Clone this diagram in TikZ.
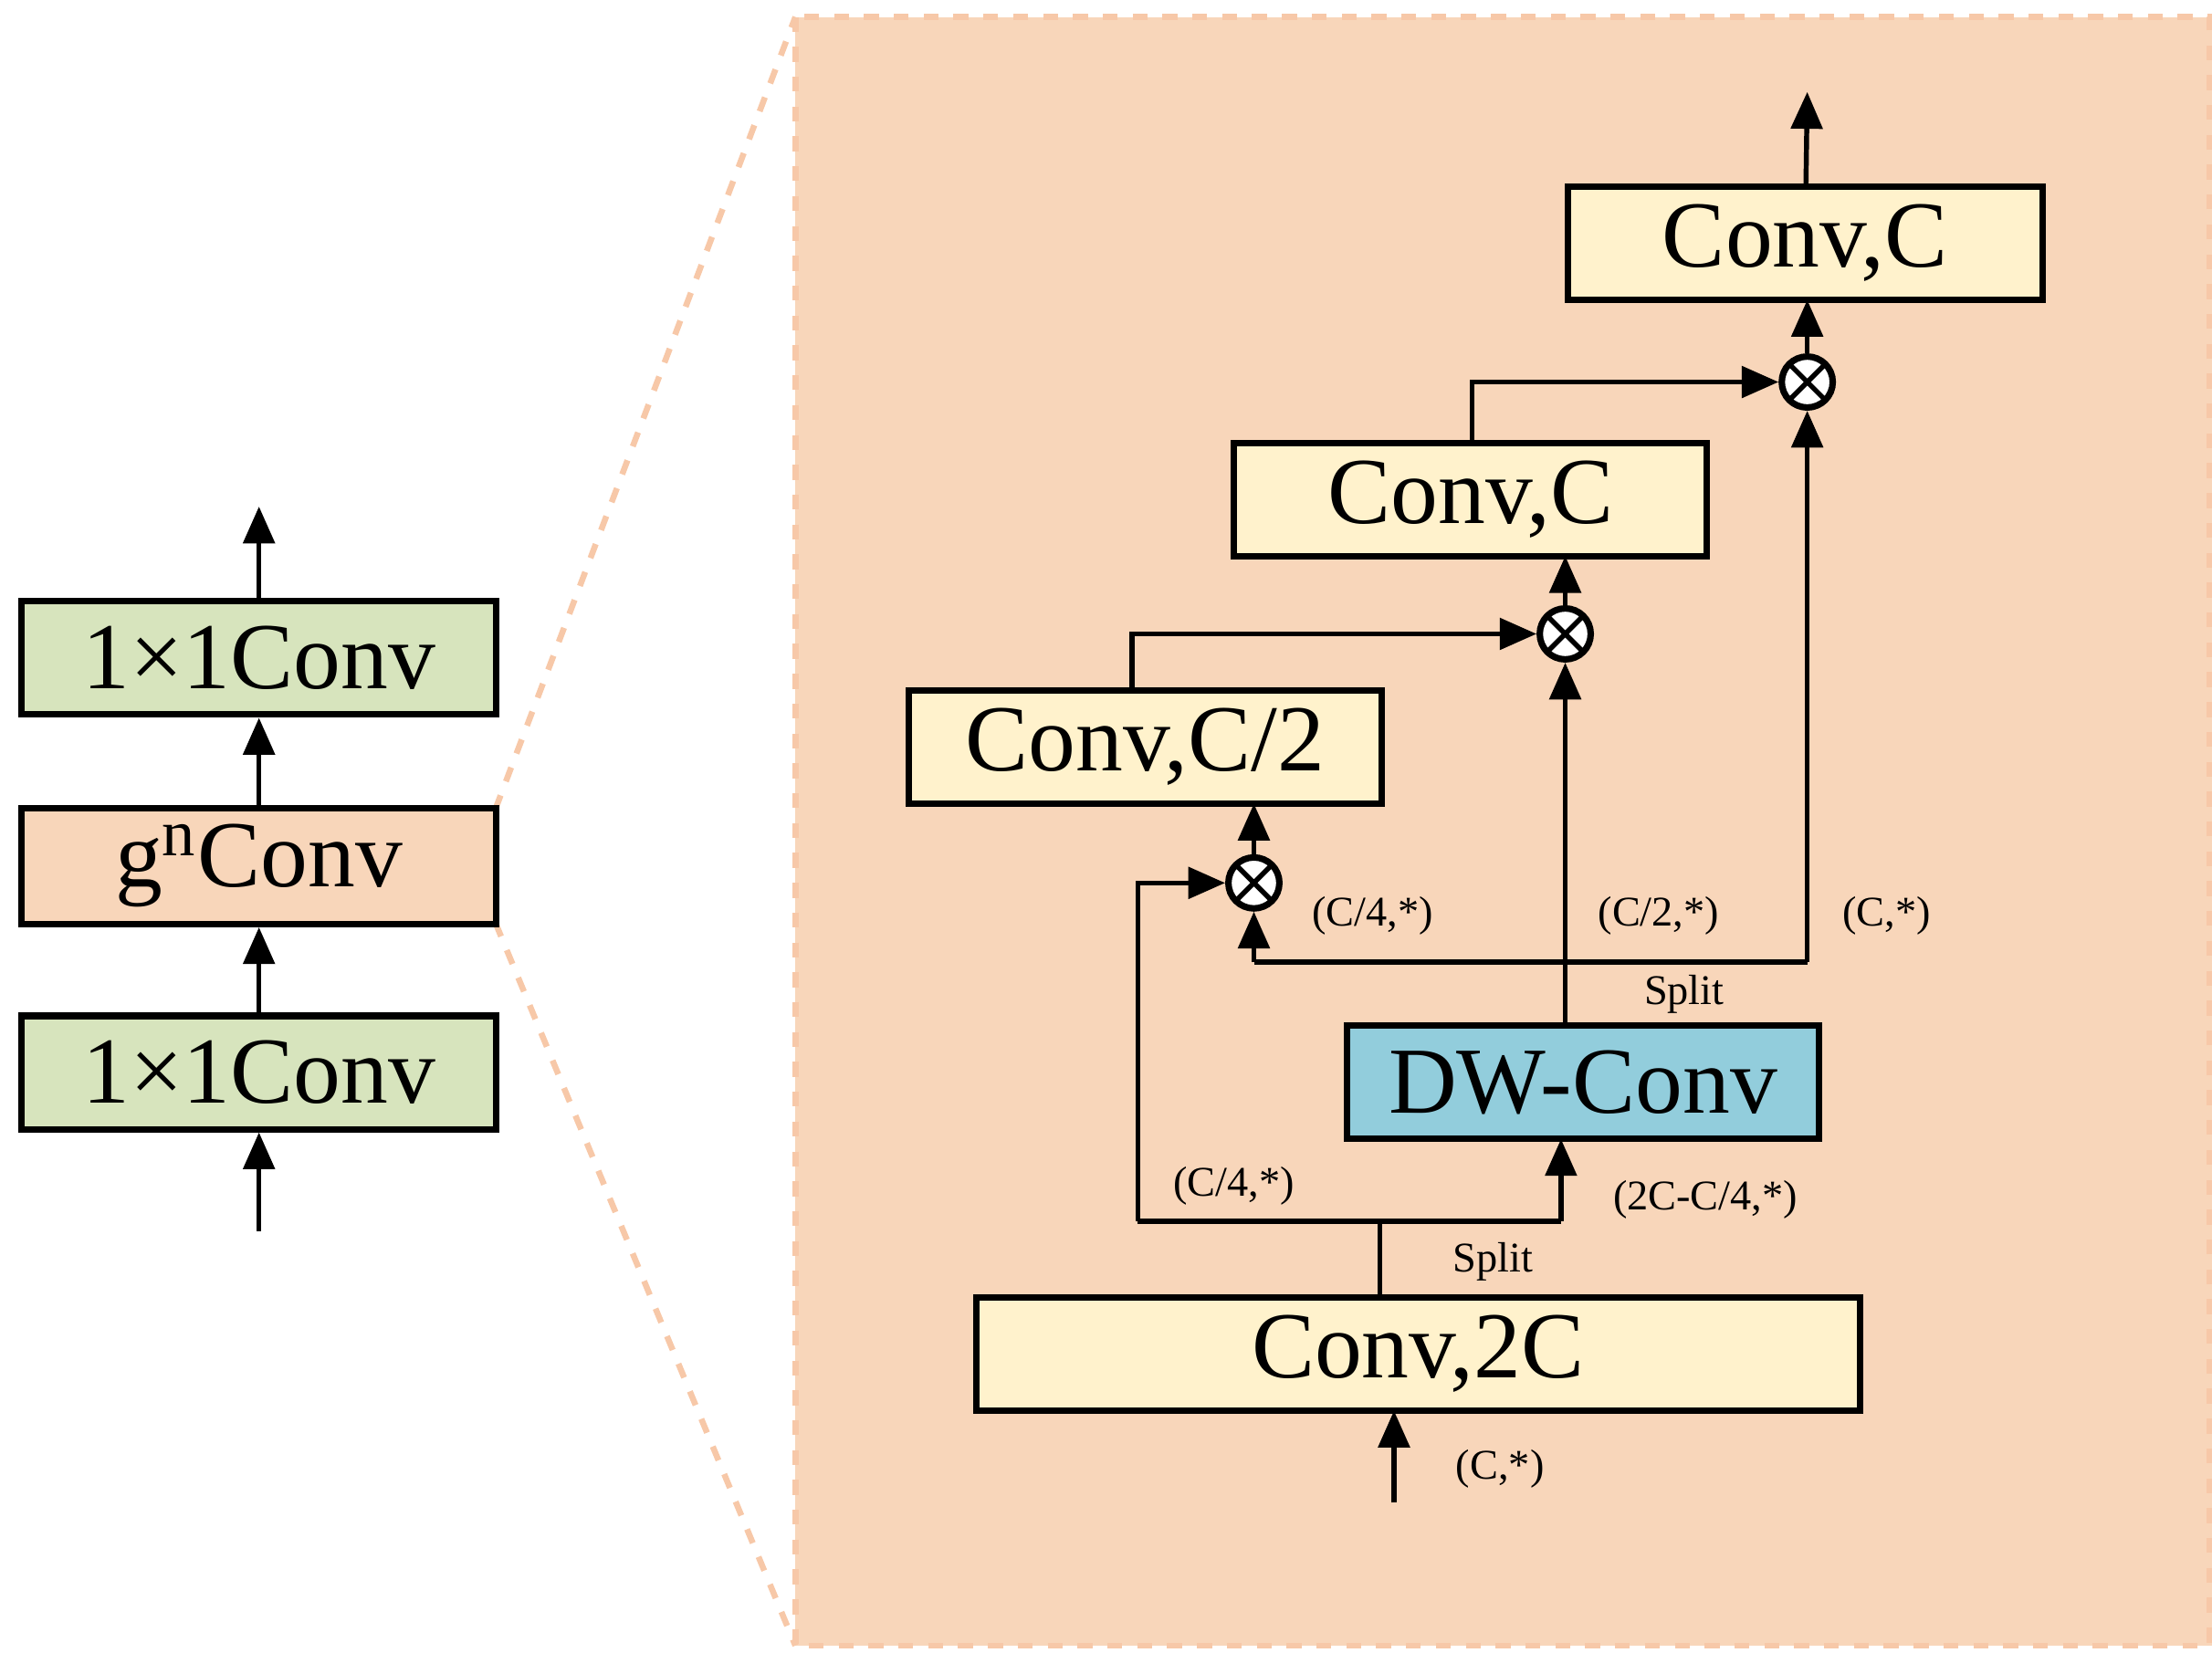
\documentclass[tikz,border=0pt]{standalone}
\usepackage{fontspec}
\setmainfont{Liberation Serif}
\usetikzlibrary{arrows.meta}
\definecolor{gr}{HTML}{D7E4BD}
\definecolor{pe}{HTML}{F8D6BA}
\definecolor{pd}{HTML}{F4B183}
\definecolor{yl}{HTML}{FFF2CC}
\definecolor{bl}{HTML}{92CDDC}
\begin{document}
\begin{tikzpicture}[x=0.01cm,y=-0.01cm,line width=1pt,
  box/.style={draw,line width=1.3pt,fill=yl},
  big/.style={font=\fontsize{19pt}{19pt}\selectfont},
  lab/.style={font=\fontsize{8.5pt}{9pt}\selectfont},
  ar/.style={-{Triangle[width=0.22cm,length=0.26cm]}},
  ot/.style={circle,draw,line width=1.3pt,fill=white,minimum size=0.36cm,inner sep=0pt,path picture={\draw[line width=1pt] (path picture bounding box.north west)--(path picture bounding box.south east) (path picture bounding box.north east)--(path picture bounding box.south west);}}]
\useasboundingbox (0,0) rectangle (1563,1168);
% panel
\fill[pe] (562,12) rectangle (1563,1163);
\draw[pd!70,dashed,line width=1.2pt] (562,12) rectangle (1561,1163);
\draw[pd!70,dashed,line width=1.2pt] (350,572)--(562,12) (350,652)--(562,1163);
% left
\node[box,fill=gr,big,minimum width=3.35cm,minimum height=0.8cm] (l3) at (183,465) {1×1Conv};
\node[box,fill=pe,big,minimum width=3.35cm,minimum height=0.8cm] (l2) at (183,612) {g\textsuperscript{n}Conv};
\node[box,fill=gr,big,minimum width=3.35cm,minimum height=0.8cm] (l1) at (183,758) {1×1Conv};
\coordinate (lin) at (183,870); \coordinate (lout) at (183,358);
\draw[ar] (lin)--(l1); \draw[ar] (l1)--(l2); \draw[ar] (l2)--(l3); \draw[ar] (l3)--(lout);
% right
\node[box,big,minimum width=3.35cm,minimum height=0.8cm] (c3) at (1275.5,172) {Conv,C};
\node[box,big,minimum width=3.34cm,minimum height=0.8cm] (c2) at (1039,353) {Conv,C};
\node[box,big,minimum width=3.34cm,minimum height=0.8cm] (c1) at (809,528) {Conv,C/2};
\node[box,fill=bl,big,minimum width=3.33cm,minimum height=0.8cm] (dw) at (1118.5,765) {DW-Conv};
\node[box,big,minimum width=6.24cm,minimum height=0.8cm] (c0) at (1002,957) {Conv,2C};
\node[ot] (m3) at (1277,270) {};
\node[ot] (m2) at (1106,448) {};
\node[ot] (m1) at (886,624) {};
\coordinate (in) at (985,1062); \coordinate (out) at (1277,65);
\draw[ar] (in)--(985,997);
\draw (975,917)--(975,863);
\draw[ar] (1103,863)--(1103,805);
\draw[ar] (804,863)--(804,624)--(m1);
\draw (804,863)--(1103,863);
\draw[ar] (1106,725)--(m2);
\draw (886,680)--(1277,680);
\draw[ar] (886,680)--(m1);
\draw[ar] (1277,680)--(m3);
\draw[ar] (m1)--(886,568);
\draw[ar] (800,488)--(800,448)--(m2);
\draw[ar] (m2)--(1106,393);
\draw[ar] (1040,313)--(1040,270)--(m3);
\draw[ar] (m3)--(1277,212);
\draw[ar] (c3)--(out);
\node[lab] at (1060,1038) {(C,*)};
\node[lab] at (872,838) {(C/4,*)};
\node[lab] at (1205,848) {(2C-C/4,*)};
\node[lab] at (1055,892) {Split};
\node[lab] at (970,647) {(C/4,*)};
\node[lab] at (1172,647) {(C/2,*)};
\node[lab] at (1333,647) {(C,*)};
\node[lab] at (1190,703) {Split};
\end{tikzpicture}
\end{document}
